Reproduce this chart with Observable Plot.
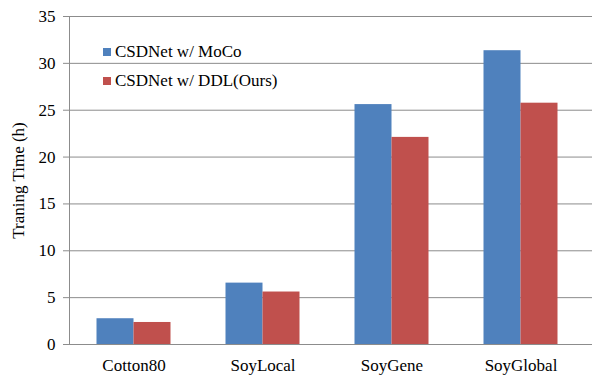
<!DOCTYPE html>
<html>
<head>
<meta charset="utf-8">
<script src="https://cdn.jsdelivr.net/npm/d3@7"></script>
<script src="https://cdn.jsdelivr.net/npm/@observablehq/plot@0.6"></script>
<style>
  html, body { margin: 0; padding: 0; background: #fff; }
  #wrap { position: relative; width: 592px; height: 375px; font-family: "Liberation Serif", "Times New Roman", serif; }
  #legend { position: absolute; left: 103px; top: 38px; font-size: 17px; color: #000; line-height: 28.5px; }
  .item { display: flex; align-items: center; height: 28.5px; }
  .sw { width: 8px; height: 8px; margin-right: 4px; }
</style>
</head>
<body>
<div id="wrap"></div>
<script>
const categories = ["Cotton80", "SoyLocal", "SoyGene", "SoyGlobal"];
const seriesNames = ["CSDNet w/ MoCo", "CSDNet w/ DDL(Ours)"];
const mocoHours = [2.75, 6.55, 25.6, 31.35];
const ddlHours = [2.35, 5.6, 22.1, 25.75];
const yTicks = [0, 5, 10, 15, 20, 25, 30, 35];
const colors = ["#4F81BD", "#C0504D"];
const yLabel = "Traning Time (h)";

const mocoData = categories.map((c, i) => ({category: c, series: seriesNames[0], hours: mocoHours[i]}));
const ddlData = categories.map((c, i) => ({category: c, series: seriesNames[1], hours: ddlHours[i]}));

const gray = "#8c8c8c";

const chart = Plot.plot({
  width: 592,
  height: 375,
  marginTop: 16,
  marginBottom: 31,
  marginLeft: 69,
  marginRight: 0,
  style: {fontFamily: '"Liberation Serif", "Times New Roman", serif', color: "#000", background: "#fff"},
  x: {domain: categories, range: [69, 585], padding: 0},
  y: {domain: [0, 35]},
  marks: [
    Plot.gridY(yTicks, {stroke: gray, strokeOpacity: 1, strokeWidth: 1}),
    Plot.barY(mocoData, {x: "category", y: "hours", fill: colors[0], insetLeft: 27.5, insetRight: 64.5}),
    Plot.barY(ddlData, {x: "category", y: "hours", fill: colors[1], insetLeft: 64.5, insetRight: 27.5}),
    Plot.frame({anchor: "left", stroke: gray}),
    Plot.axisY(yTicks, {tickSize: 6, tickPadding: 8, fontSize: 17, stroke: gray, label: yLabel, labelAnchor: "center", labelArrow: "none", labelOffset: 58}),
    Plot.axisX({tickSize: 0, tickPadding: 14, fontSize: 17, label: null})
  ]
});

const wrap = document.getElementById("wrap");
wrap.appendChild(chart);

const legend = document.createElement("div");
legend.id = "legend";
seriesNames.forEach((name, i) => {
  const item = document.createElement("div");
  item.className = "item";
  const sw = document.createElement("span");
  sw.className = "sw";
  sw.style.background = colors[i];
  const t = document.createElement("span");
  t.textContent = name;
  item.appendChild(sw);
  item.appendChild(t);
  legend.appendChild(item);
});
wrap.appendChild(legend);
</script>
</body>
</html>
